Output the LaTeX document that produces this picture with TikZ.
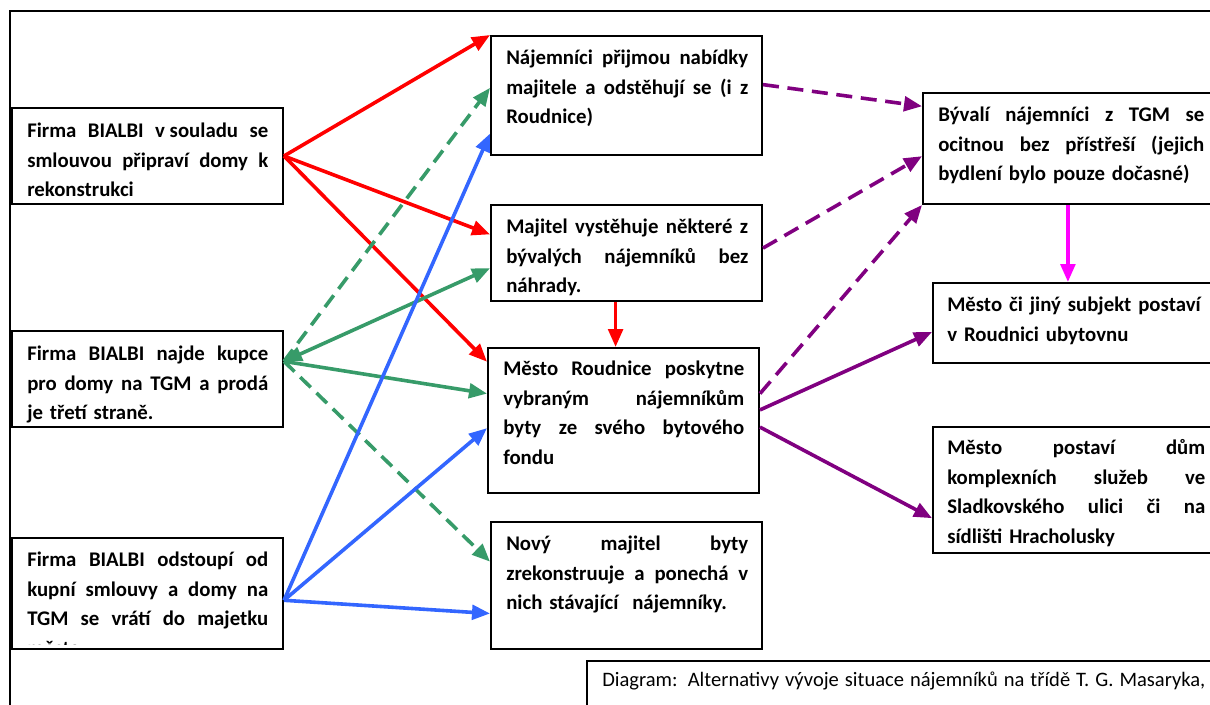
\documentclass[tikz,border=0pt]{standalone}
\usepackage{fontspec}
\setmainfont{Carlito}
\usetikzlibrary{arrows.meta,calc,fit}
\definecolor{cred}{RGB}{255,0,0}
\definecolor{cgreen}{RGB}{55,155,105}
\definecolor{cblue}{RGB}{51,102,255}
\definecolor{cpurple}{RGB}{128,0,128}
\definecolor{cmag}{RGB}{255,0,255}
\newlength\tw
\newcommand\jl[1]{\makebox[\tw][s]{\spaceskip=\fontdimen2\font plus 1fil\relax #1}}
\newcommand\fl{\rule{0pt}{15pt}}
\begin{document}
\begin{tikzpicture}[x=0.75pt,y=-0.75pt,
  box/.style={draw, line width=1.5pt, fill=white, inner sep=0pt},
  txt/.style={anchor=north west, inner sep=0pt, align=left, text width=#1,
    execute at begin node={\setlength\tw{#1}},
    font=\fontsize{15.6}{22.3}\selectfont\bfseries},
  captxt/.style={anchor=north west, inner sep=0pt, align=left, text width=#1,
    execute at begin node={\setlength\tw{#1}},
    font=\fontsize{15.4}{22.3}\selectfont},
  arr/.style={line width=2.7pt, -{Triangle[length=13.5pt,width=11pt]}},
  dsh/.style={dash pattern=on 11pt off 6pt},
  pdsh/.style={dash pattern=on 12pt off 6.5pt}]
\useasboundingbox (0,0) rectangle (1210,704);
\clip (0,0) rectangle (1210,704);
% outer frame
\draw[line width=1.5pt] (10,11) rectangle (1260,760);
% boxes
\node[box, fit={(12,108) (283,204)}] (A) {};
\node[box, fit={(12,331) (283,427)}] (B) {};
\node[box, fit={(12,538) (283,649)}] (C) {};
\node[box, fit={(491,36) (762,155)}] (D) {};
\node[box, fit={(491,205) (762,301)}] (E) {};
\node[box, fit={(488,348) (759,493)}] (F) {};
\node[box, fit={(491,522) (762,649)}] (G) {};
\node[box, fit={(923,93) (1225,204)}] (H) {};
\node[box, fit={(933,283) (1232,363)}] (I) {};
\node[box, fit={(933,427) (1232,553)}] (J) {};
\node[box, fit={(587,661) (1240,760)}] (K) {};
% texts
\node[txt=180.75pt] (At) at (27,117) {\fl\jl{Firma BIALBI \mbox{v souladu} se}\\\jl{smlouvou připraví domy k}\\rekonstrukci};
\node[txt=180.75pt] (Bt) at (27,340) {\fl\jl{Firma BIALBI najde kupce}\\\jl{pro domy na TGM a prodá}\\je třetí straně.};
\begin{scope}
\clip (C.north west) rectangle ([yshift=4.5pt]C.south east);
\node[txt=180.75pt] (Ct) at (27,546) {\fl\jl{Firma BIALBI odstoupí od}\\\jl{kupní smlouvy a domy na}\\\jl{TGM se vrátí do majetku}\\města.};
\end{scope}
\node[txt=181.5pt] (Dt) at (506,44) {\fl\jl{Nájemníci přijmou nabídky}\\\jl{majitele a odstěhují se (i z}\\Roudnice)};
\begin{scope}
\clip (E.north west) rectangle ([yshift=3.75pt]E.south east);
\node[txt=181.5pt] (Et) at (506,213) {\fl\jl{Majitel vystěhuje některé z}\\\jl{bývalých nájemníků bez}\\náhrady.};
\end{scope}
\node[txt=180.75pt] (Ft) at (503,355) {\fl\jl{Město Roudnice poskytne}\\\jl{vybraným nájemníkům}\\\jl{byty ze svého bytového}\\fondu};
\node[txt=181.5pt] (Gt) at (506,530) {\fl\jl{Nový majitel byty}\\\jl{zrekonstruuje a ponechá v}\\nich stávající\ \ nájemníky.};
\node[txt=199.5pt] (Ht) at (938,101) {\fl\jl{Bývalí nájemníci z TGM se}\\\jl{ocitnou bez přístřeší (jejich}\\bydlení bylo pouze dočasné)};
\node[txt=199.5pt] (It) at (947,291) {\fl Město či jiný subjekt postaví\\v Roudnici ubytovnu};
\node[txt=193.5pt] (Jt) at (947,434) {\fl\jl{Město postaví dům}\\\jl{komplexních služeb ve}\\\jl{Sladkovského ulici či na}\\sídlišti Hracholusky};
\node[captxt=452.25pt] (Kt) at (602,666) {\fl\jl{Diagram: Alternativy vývoje situace nájemníků na třídě T. G. Masaryka,}};
% anchor points
\coordinate (Bp) at ($(B.north east)!0.32!(B.south east)$);
\coordinate (Cp) at ($(C.north east)!0.56!(C.south east)$);
% red
\draw[arr, cred] (A.east) -- (D.north west);
\draw[arr, cred] (A.east) -- ($(E.north west)!0.31!(E.south west)$);
\draw[arr, cred] (A.east) -- ($(F.north west)!0.10!(F.south west)$);
\coordinate (Eb) at ($(E.south west)!0.46!(E.south east)$);
\draw[arr, cred] (Eb) -- (Eb |- F.north);
% green
\draw[line width=2.7pt, cgreen, {Triangle[length=13.5pt,width=11pt]}-{Triangle[length=13.5pt,width=11pt]}] (Bp) -- ($(E.north west)!0.656!(E.south west)$);
\draw[arr, cgreen] (Bp) -- ($(F.north west)!0.317!(F.south west)$);
\draw[arr, cgreen, dsh] (Bp) -- ($(D.north west)!0.437!(D.south west)$);
\draw[arr, cgreen, dsh] (Bp) -- ($(G.north west)!0.315!(G.south west)$);
% blue
\draw[arr, cblue] (Cp) -- ($(D.north west)!0.815!(D.south west)$);
\draw[arr, cblue] (Cp) -- ($(F.north west)!0.552!(F.south west)$);
\draw[arr, cblue] (Cp) -- ($(G.north west)!0.717!(G.south west)$);
% purple dashed
\draw[arr, cpurple, pdsh] ($(D.north east)!0.41!(D.south east)$) -- ($(H.north west)!0.126!(H.south west)$);
\draw[arr, cpurple, pdsh] ($(E.north east)!0.45!(E.south east)$) -- ($(H.north west)!0.568!(H.south west)$);
\draw[arr, cpurple, pdsh] ($(F.north east)!0.317!(F.south east)$) -- (H.south west);
% purple solid
\draw[arr, cpurple] ($(F.north east)!0.428!(F.south east)$) -- ($(I.north west)!0.61!(I.south west)$);
\draw[arr, cpurple] ($(F.north east)!0.545!(F.south east)$) -- ($(J.north west)!0.72!(J.south west)$);
% magenta
\coordinate (Hb) at ($(H.south west)!0.48!(H.south east)$);
\draw[arr, cmag] (Hb) -- (Hb |- I.north);
\end{tikzpicture}
\end{document}
